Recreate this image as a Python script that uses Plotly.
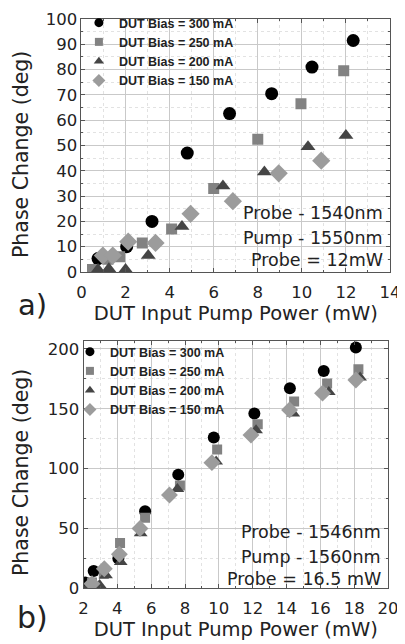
import plotly.graph_objects as go

# ---- panel a) : probe 1540 nm, pump 1550 nm, probe 12 mW ----
a_x_300 = [0.75, 2.05, 3.2, 4.8, 6.72, 8.63, 10.46, 12.33]
a_y_300 = [5.3, 10.0, 20.0, 47.0, 62.6, 70.5, 81.0, 91.5]
a_x_250 = [0.5, 1.2, 1.73, 2.76, 4.09, 6.0, 8.0, 9.96, 11.9]
a_y_250 = [1.0, 5.0, 6.0, 11.5, 17.0, 33.0, 52.5, 66.5, 79.5]
a_x_200 = [0.75, 1.24, 2.0, 3.03, 4.56, 6.42, 8.3, 10.28, 12.0]
a_y_200 = [1.0, 1.3, 1.0, 6.5, 18.0, 34.0, 39.5, 49.5, 54.0]
a_x_150 = [0.97, 1.42, 2.12, 3.36, 4.95, 6.87, 8.95, 10.88]
a_y_150 = [6.5, 6.5, 12.0, 11.5, 23.0, 28.0, 39.0, 44.0]

# ---- panel b) : probe 1546 nm, pump 1560 nm, probe 16.5 mW ----
b_x_300 = [2.1, 2.6, 4.06, 5.64, 7.6, 9.7, 12.1, 14.2, 16.2, 18.1]
b_y_300 = [5.0, 14.5, 25.0, 64.5, 95.0, 126.0, 146.0, 167.0, 181.5, 201.0]
b_x_250 = [2.5, 3.2, 4.16, 5.64, 7.7, 9.9, 12.3, 14.45, 16.4, 18.25]
b_y_250 = [5.0, 12.0, 38.0, 59.0, 86.0, 116.0, 137.0, 156.0, 171.0, 183.0]
b_x_200 = [2.3, 2.95, 3.33, 4.2, 5.38, 7.55, 9.84, 12.2, 14.4, 16.5, 18.35]
b_y_200 = [2.0, 3.0, 11.0, 22.0, 46.0, 83.0, 106.0, 132.0, 146.0, 164.0, 176.0]
b_x_150 = [2.5, 3.23, 4.12, 5.34, 7.08, 9.59, 11.9, 14.18, 16.13, 18.1]
b_y_150 = [4.0, 16.5, 28.5, 50.0, 78.0, 105.0, 128.0, 149.0, 163.0, 174.0]

bias_labels = ["DUT Bias = 300 mA", "DUT Bias = 250 mA", "DUT Bias = 200 mA", "DUT Bias = 150 mA"]
notes_a = ["Probe - 1540nm", "Pump - 1550nm", "Probe = 12mW"]
notes_b = ["Probe - 1546nm", "Pump - 1560nm", "Probe = 16.5 mW"]
x_title = "DUT Input Pump Power (mW)"
y_title = "Phase Change (deg)"

# marker look for each bias (same order as bias_labels)
symbols = ["circle", "square", "triangle-up", "diamond"]
colors = ["#000000", "#828282", "#454545", "#9c9c9c"]
sizes = [13, 11, 13, 14]
legend_sizes = [9, 8, 9, 10]

TXT = "#222222"
FONT = "DejaVu Sans"
W, H = 397, 636   # page body keeps an 8px margin, so the figure is drawn a bit smaller

fig = go.Figure()

series_a = [(a_x_300, a_y_300), (a_x_250, a_y_250), (a_x_200, a_y_200), (a_x_150, a_y_150)]
series_b = [(b_x_300, b_y_300), (b_x_250, b_y_250), (b_x_200, b_y_200), (b_x_150, b_y_150)]

panels = [(series_a, "x", "y", "legend", 0), (series_b, "x2", "y2", "legend2", 1)]
for series, xa, ya, leg, shrink in panels:
    for i, (xs, ys) in enumerate(series):
        fig.add_trace(go.Scatter(x=xs, y=ys, mode="markers", name=bias_labels[i], showlegend=False,
                                 marker=dict(symbol=symbols[i], color=colors[i], size=sizes[i] - shrink),
                                 xaxis=xa, yaxis=ya))
        # legend-only entry, so the key symbols stay small like the original
        fig.add_trace(go.Scatter(x=[None], y=[None], mode="markers", name=bias_labels[i],
                                 marker=dict(symbol=symbols[i], color=colors[i], size=legend_sizes[i]),
                                 xaxis=xa, yaxis=ya, legend=leg))


def axis_style(rng, dtick, minor_dtick, domain, anchor, title=None, lab_off=0):
    ax = dict(
        range=rng, dtick=dtick, domain=domain, anchor=anchor,
        showgrid=True, gridcolor="#c9c9c9", gridwidth=1.2,
        minor=dict(dtick=minor_dtick, showgrid=True, gridcolor="#e2e2e2", griddash="dot",
                   ticks="inside", ticklen=2, tickcolor="#555"),
        ticks="inside", ticklen=4, tickcolor="#555", ticklabelstandoff=lab_off,
        showline=True, linecolor="#555", linewidth=1, mirror="allticks",
        zeroline=False, automargin=False,
        tickfont=dict(family=FONT, size=16.5, color=TXT),
    )
    if title:
        ax["title"] = dict(text=title, font=dict(family=FONT, size=19.5, color=TXT), standoff=0)
    return ax


legend_font = dict(family="Liberation Sans", size=12.5, color=TXT, weight="bold")

fig.update_layout(
    width=W, height=H,
    margin=dict(l=0, r=0, t=0, b=0),
    plot_bgcolor="white", paper_bgcolor="white",
    xaxis=axis_style([0, 14], 2, 1, [0.1851, 0.9622], "y", x_title, 5),
    yaxis=axis_style([0, 100], 10, 5, [0.5849, 0.9827], "x"),
    xaxis2=axis_style([2, 20], 2, 1, [0.1902, 0.9572], "y2", x_title, 5),
    yaxis2=axis_style([0, 206.5], 50, 25, [0.0873, 0.4764], "x2"),
    legend=dict(x=0.1786, y=1.0, xanchor="left", yanchor="top", bgcolor="rgba(0,0,0,0)",
                font=legend_font, itemsizing="trace", tracegroupgap=0),
    legend2=dict(x=0.156, y=0.4827, xanchor="left", yanchor="top", bgcolor="rgba(0,0,0,0)",
                 font=legend_font, itemsizing="trace", tracegroupgap=0),
)

# y titles sit a little below the panel centre in the original, so place them by hand
for yc in [147, 465]:
    fig.add_annotation(text=y_title, xref="paper", yref="paper", x=0, y=1 - yc / H,
                       textangle=-90, xanchor="left", yanchor="middle", showarrow=False,
                       borderpad=0, font=dict(family=FONT, size=20.5, color=TXT))

# wavelength / power notes in the lower right of each panel
for k, txt in enumerate(notes_a):
    fig.add_annotation(text=txt, xref="paper", yref="paper", x=0.9496, y=[0.6777, 0.6384, 0.6038][k],
                       xanchor="right", yanchor="middle", showarrow=False,
                       font=dict(family=FONT, size=17.5, color=TXT))
for k, txt in enumerate(notes_b):
    fig.add_annotation(text=txt, xref="paper", yref="paper", x=0.9446, y=[0.1761, 0.1368, 0.1022][k],
                       xanchor="right", yanchor="middle", showarrow=False,
                       font=dict(family=FONT, size=17.5, color=TXT))

# panel letters
fig.add_annotation(text="a)", xref="paper", yref="paper", x=0.0605, y=1 - 297 / H,
                   xanchor="center", yanchor="middle", showarrow=False,
                   font=dict(family=FONT, size=29, color=TXT))
fig.add_annotation(text="b)", xref="paper", yref="paper", x=0.0605, y=1 - 609 / H,
                   xanchor="center", yanchor="middle", showarrow=False,
                   font=dict(family=FONT, size=30, color=TXT))

fig.write_html("out.html")
